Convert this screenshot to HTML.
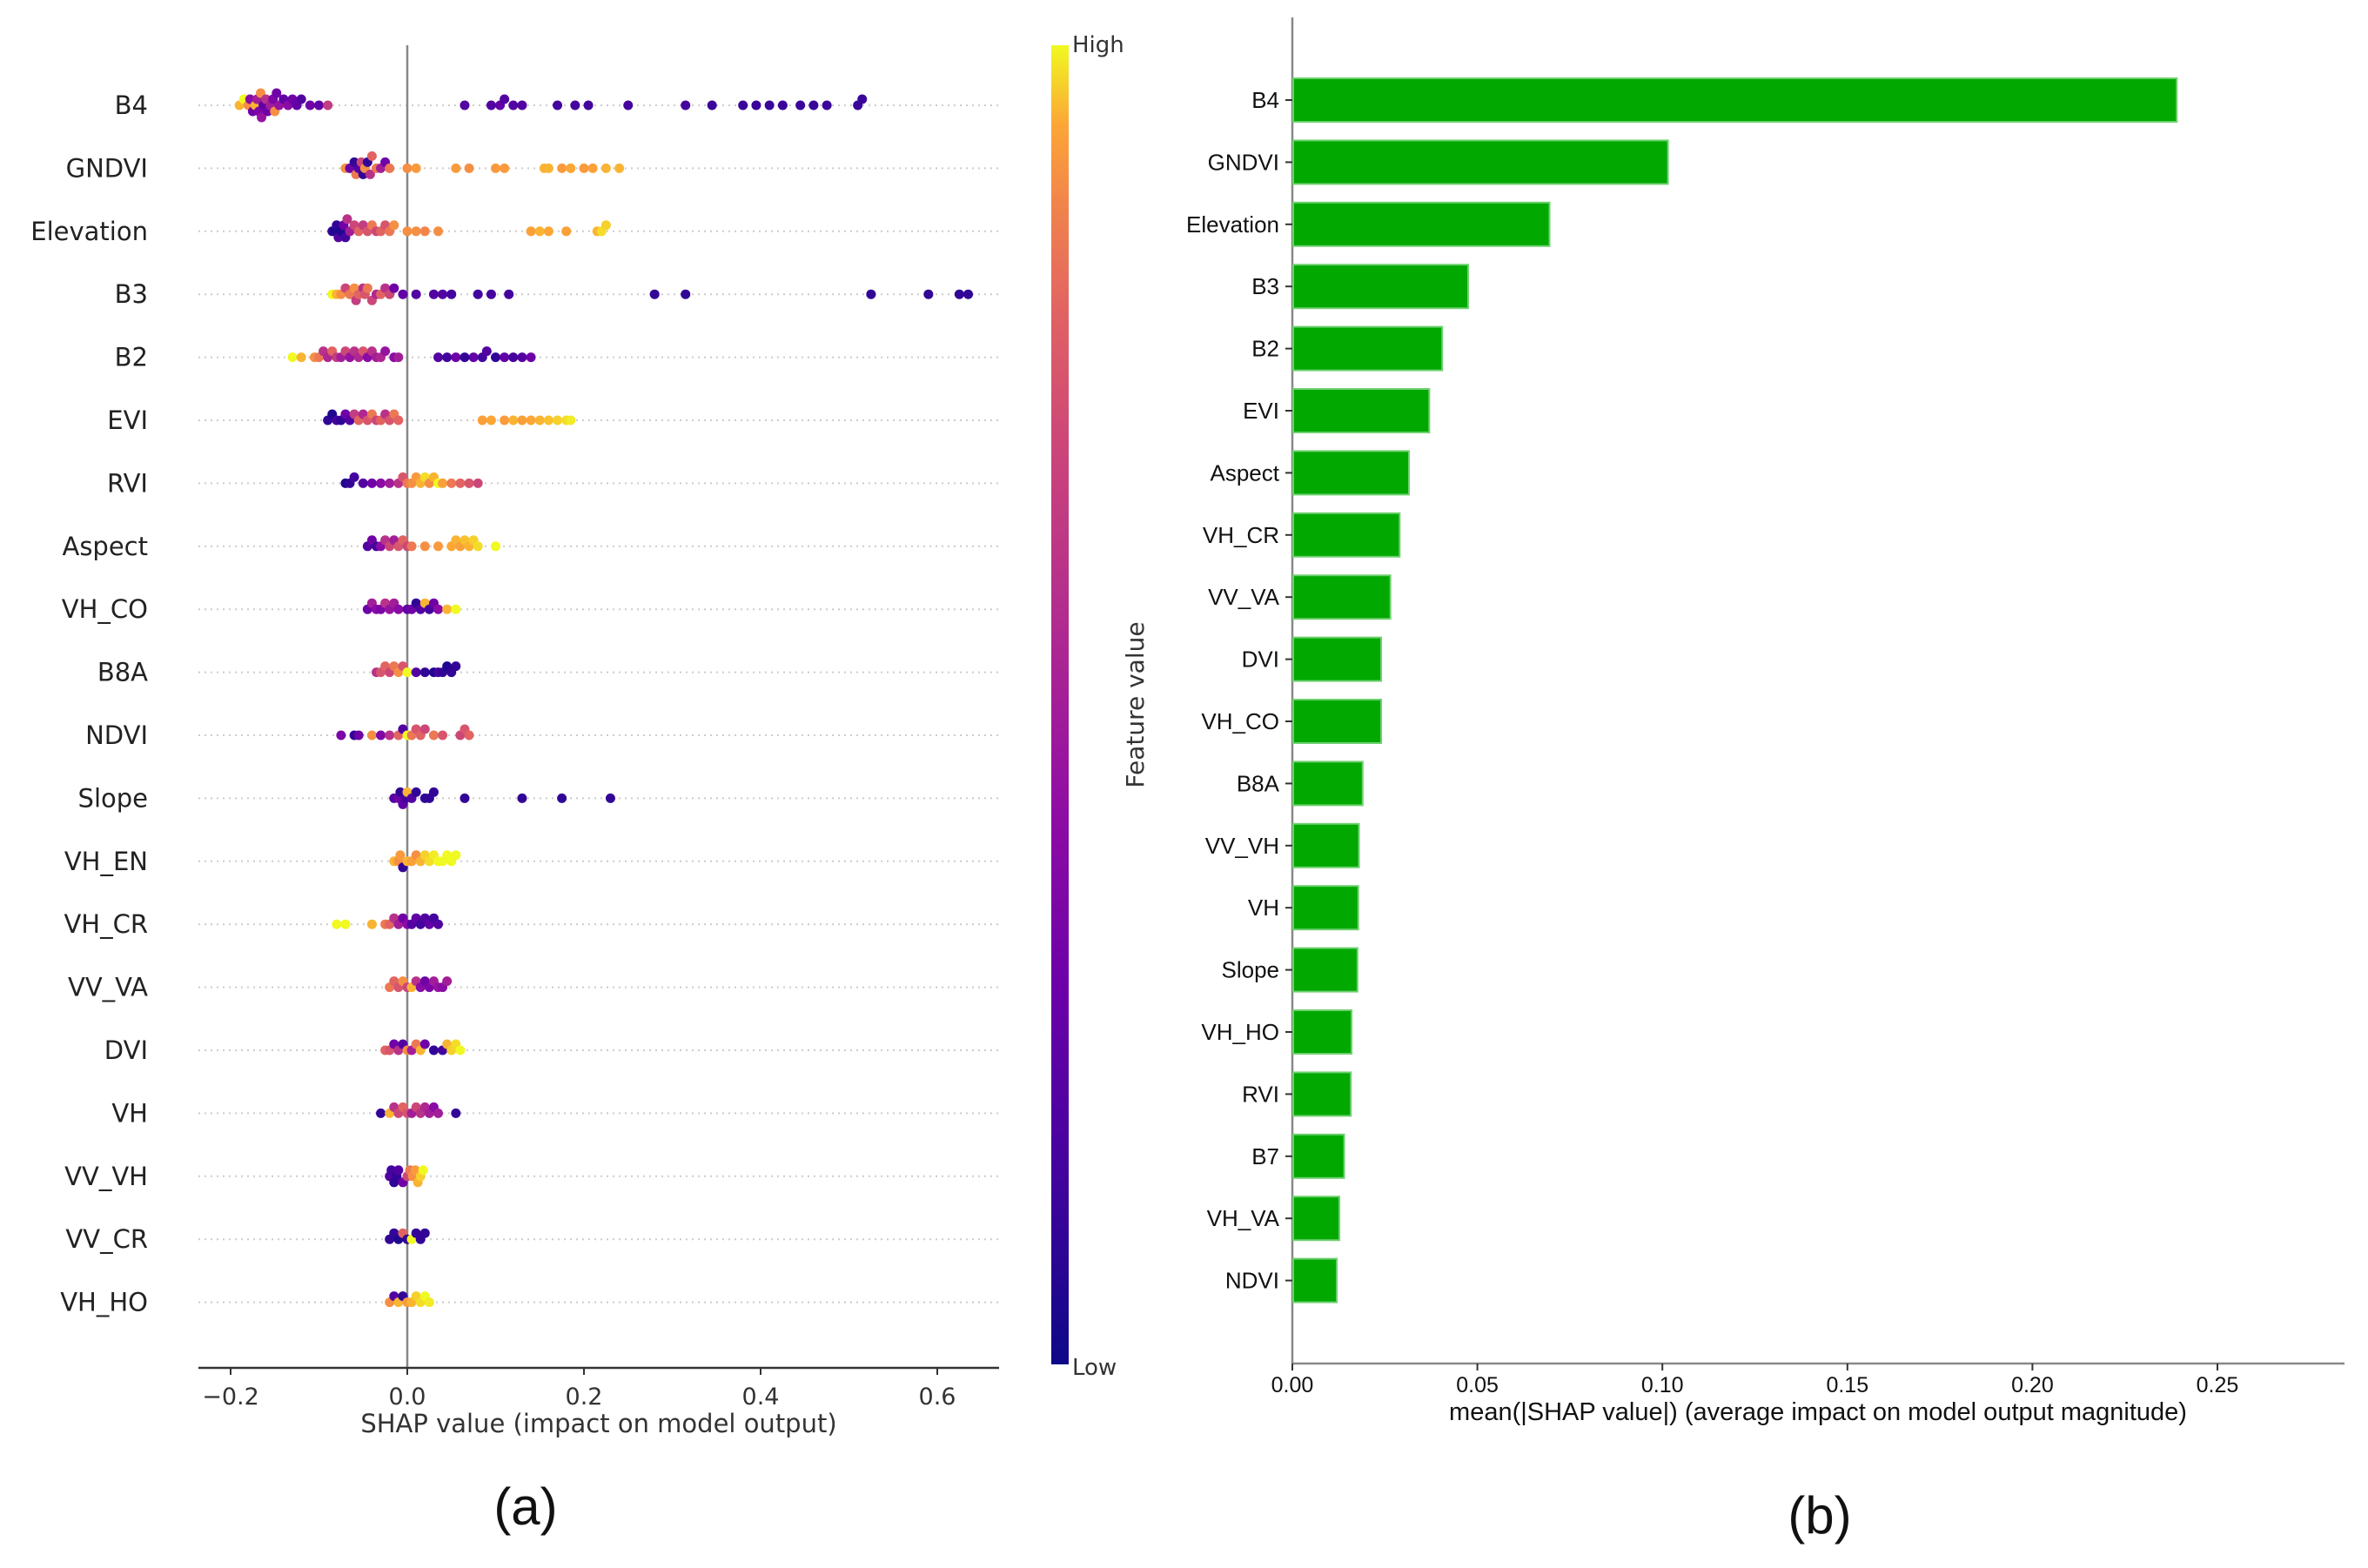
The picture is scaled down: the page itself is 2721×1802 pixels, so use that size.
<!DOCTYPE html>
<html><head><meta charset="utf-8">
<style>
html,body{margin:0;padding:0;background:#fff;}
svg{display:block;font-family:"DejaVu Sans","Liberation Sans",sans-serif;}
</style></head>
<body>
<svg id="fig" width="2721" height="1802" viewBox="0 0 2721 1802">
<defs>
<linearGradient id="plasma" x1="0" y1="1" x2="0" y2="0">
<stop offset="0" stop-color="#0d0887"/><stop offset="0.14" stop-color="#41049d"/>
<stop offset="0.28" stop-color="#6a00a8"/><stop offset="0.42" stop-color="#8f0da4"/>
<stop offset="0.56" stop-color="#b12a90"/><stop offset="0.7" stop-color="#cc4778"/>
<stop offset="0.8" stop-color="#e16462"/><stop offset="0.88" stop-color="#f2844b"/>
<stop offset="0.94" stop-color="#fca636"/><stop offset="1" stop-color="#f0f921"/>
</linearGradient>
</defs>
<g id="left"></g>
<g id="right"></g>
</svg>
<script>
// ---------- Bar chart data ----------
const barFeatures = ["B4","GNDVI","Elevation","B3","B2","EVI","Aspect","VH_CR","VV_VA","DVI","VH_CO","B8A","VV_VH","VH","Slope","VH_HO","RVI","B7","VH_VA","NDVI"];
const barValues = [0.239,0.1015,0.0695,0.0475,0.0405,0.037,0.0315,0.029,0.0265,0.024,0.024,0.019,0.018,0.0178,0.0176,0.016,0.0158,0.014,0.0127,0.012];
const barTicks = [0,0.05,0.10,0.15,0.20,0.25];
const barTickLabels = ["0.00","0.05","0.10","0.15","0.20","0.25"];

// ---------- Beeswarm data ----------
const swarmFeatures = ["B4","GNDVI","Elevation","B3","B2","EVI","RVI","Aspect","VH_CO","B8A","NDVI","Slope","VH_EN","VH_CR","VV_VA","DVI","VH","VV_VH","VV_CR","VH_HO"];
const swarmTicks = [-0.2,0,0.2,0.4,0.6];
const swarmTickLabels = ["\u22120.2","0.0","0.2","0.4","0.6"];
const shapVals = [
 [-0.19,-0.185,-0.18,-0.178,-0.175,-0.172,-0.17,-0.168,-0.166,-0.165,-0.163,-0.16,-0.158,-0.155,-0.152,-0.15,-0.148,-0.145,-0.14,-0.135,-0.13,-0.125,-0.12,-0.11,-0.1,-0.09,0.065,0.095,0.105,0.11,0.12,0.13,0.17,0.19,0.205,0.25,0.315,0.345,0.38,0.395,0.41,0.425,0.445,0.46,0.475,0.51,0.515],
 [-0.07,-0.065,-0.06,-0.058,-0.055,-0.052,-0.05,-0.048,-0.045,-0.042,-0.04,-0.035,-0.03,-0.025,-0.02,0,0.01,0.055,0.07,0.1,0.11,0.155,0.16,0.175,0.185,0.2,0.21,0.225,0.24],
 [-0.085,-0.082,-0.08,-0.078,-0.075,-0.072,-0.07,-0.068,-0.065,-0.06,-0.055,-0.05,-0.045,-0.04,-0.035,-0.03,-0.025,-0.02,-0.015,0,0.01,0.02,0.035,0.14,0.15,0.16,0.18,0.215,0.22,0.225],
 [-0.085,-0.08,-0.075,-0.07,-0.065,-0.06,-0.058,-0.055,-0.05,-0.048,-0.045,-0.04,-0.035,-0.03,-0.025,-0.02,-0.015,-0.005,0.01,0.03,0.04,0.05,0.08,0.095,0.115,0.28,0.315,0.525,0.59,0.625,0.635],
 [-0.13,-0.12,-0.105,-0.1,-0.095,-0.09,-0.085,-0.08,-0.075,-0.07,-0.065,-0.06,-0.055,-0.05,-0.045,-0.04,-0.035,-0.03,-0.025,-0.015,-0.01,0.035,0.045,0.055,0.065,0.075,0.085,0.09,0.1,0.11,0.12,0.13,0.14],
 [-0.09,-0.085,-0.08,-0.075,-0.07,-0.065,-0.06,-0.055,-0.05,-0.045,-0.04,-0.035,-0.03,-0.025,-0.02,-0.015,-0.01,0.085,0.095,0.11,0.12,0.13,0.14,0.15,0.16,0.17,0.18,0.185],
 [-0.07,-0.065,-0.06,-0.05,-0.04,-0.03,-0.02,-0.01,-0.005,0,0.005,0.01,0.015,0.02,0.025,0.03,0.035,0.04,0.05,0.06,0.07,0.08],
 [-0.045,-0.04,-0.035,-0.03,-0.025,-0.02,-0.015,-0.01,-0.005,0,0.005,0.02,0.035,0.05,0.055,0.06,0.065,0.07,0.075,0.08,0.1],
 [-0.045,-0.04,-0.035,-0.03,-0.025,-0.02,-0.015,-0.01,0,0.005,0.01,0.015,0.02,0.025,0.03,0.035,0.045,0.055],
 [-0.035,-0.03,-0.025,-0.02,-0.015,-0.01,-0.005,0,0.01,0.02,0.03,0.035,0.04,0.045,0.05,0.055],
 [-0.075,-0.06,-0.055,-0.04,-0.03,-0.02,-0.01,-0.005,0,0.005,0.01,0.015,0.02,0.03,0.04,0.06,0.065,0.07],
 [-0.015,-0.01,-0.008,-0.005,-0.002,0,0.005,0.01,0.02,0.025,0.03,0.065,0.13,0.175,0.23],
 [-0.015,-0.01,-0.008,-0.005,0,0.005,0.01,0.015,0.02,0.025,0.03,0.035,0.04,0.045,0.05,0.055],
 [-0.08,-0.07,-0.04,-0.025,-0.02,-0.015,-0.01,-0.005,0,0.005,0.01,0.015,0.02,0.025,0.03,0.035],
 [-0.02,-0.015,-0.01,-0.005,0,0.005,0.01,0.015,0.02,0.025,0.03,0.035,0.04,0.045],
 [-0.025,-0.02,-0.015,-0.01,-0.005,0,0.005,0.01,0.015,0.02,0.03,0.04,0.045,0.05,0.055,0.06],
 [-0.03,-0.02,-0.015,-0.01,-0.005,0,0.005,0.01,0.015,0.02,0.025,0.03,0.035,0.055],
 [-0.02,-0.018,-0.015,-0.012,-0.01,-0.005,0,0.003,0.006,0.009,0.012,0.015,0.018],
 [-0.02,-0.015,-0.01,-0.005,0,0.005,0.01,0.015,0.02],
 [-0.02,-0.015,-0.01,-0.005,0,0.005,0.01,0.015,0.02,0.025]
];
const featVals = [
 [0.95,1,0.9,0.4,0.3,0.95,0.5,0.35,0.9,0.45,0.25,0.6,0.3,0.5,0.35,0.9,0.3,0.45,0.25,0.4,0.3,0.25,0.2,0.3,0.25,0.65,0.2,0.2,0.25,0.2,0.2,0.2,0.15,0.15,0.15,0.15,0.15,0.12,0.12,0.12,0.12,0.12,0.12,0.12,0.12,0.12,0.12],
 [0.9,0.3,0.1,0.85,0.2,0.7,0.1,0.9,0.1,0.6,0.8,0.85,0.5,0.3,0.85,0.9,0.92,0.92,0.9,0.92,0.92,0.95,0.95,0.92,0.94,0.92,0.93,0.95,0.95],
 [0.1,0.05,0.1,0.2,0.05,0.3,0.15,0.6,0.5,0.7,0.8,0.65,0.75,0.85,0.7,0.8,0.75,0.85,0.9,0.9,0.9,0.88,0.9,0.93,0.95,0.94,0.93,0.95,0.98,0.97],
 [1,0.95,0.9,0.7,0.85,0.9,0.65,0.8,0.6,0.75,0.85,0.7,0.55,0.8,0.6,0.7,0.3,0.25,0.2,0.2,0.2,0.15,0.15,0.15,0.15,0.1,0.1,0.1,0.1,0.1,0.1],
 [1,0.95,0.9,0.85,0.6,0.55,0.8,0.65,0.5,0.7,0.45,0.6,0.55,0.75,0.4,0.6,0.5,0.55,0.45,0.4,0.5,0.2,0.15,0.3,0.1,0.25,0.15,0.2,0.1,0.25,0.15,0.2,0.3],
 [0.1,0.05,0.15,0.1,0.3,0.2,0.65,0.8,0.55,0.75,0.85,0.7,0.8,0.6,0.75,0.85,0.8,0.93,0.94,0.92,0.95,0.93,0.94,0.95,0.96,0.97,0.98,0.99],
 [0.05,0.1,0.15,0.2,0.3,0.4,0.5,0.6,0.75,0.85,0.9,0.92,0.95,0.98,0.9,0.95,1,0.93,0.85,0.8,0.75,0.7],
 [0.2,0.3,0.15,0.4,0.6,0.7,0.5,0.75,0.8,0.7,0.85,0.9,0.92,0.94,0.95,0.93,0.96,0.95,0.97,0.98,1],
 [0.3,0.5,0.4,0.35,0.6,0.45,0.5,0.4,0.25,0.3,0.1,0.2,0.95,0.15,0.3,0.4,0.95,1],
 [0.6,0.75,0.8,0.7,0.85,0.9,0.75,1,0.2,0.1,0.05,0.15,0.1,0.05,0.1,0.1],
 [0.35,0.1,0.3,0.9,0.35,0.6,0.8,0.2,1,0.85,0.75,0.8,0.7,0.85,0.75,0.7,0.75,0.8],
 [0.2,0.3,0.1,0.25,0.15,0.95,0.2,0.1,0.1,0.1,0.1,0.1,0.1,0.1,0.1],
 [0.95,0.9,0.92,0.1,0.95,0.93,0.9,0.95,0.97,0.98,0.99,1,1,1,1,1],
 [1,1,0.95,0.85,0.8,0.6,0.5,0.3,0.4,0.2,0.25,0.15,0.2,0.25,0.15,0.2],
 [0.85,0.8,0.75,0.9,0.7,0.95,0.6,0.4,0.3,0.35,0.5,0.45,0.4,0.5],
 [0.8,0.75,0.3,0.6,0.2,0.9,0.5,0.85,0.95,0.3,0.1,0.15,0.95,0.97,0.98,1],
 [0.1,0.95,0.6,0.7,0.8,0.75,0.5,0.7,0.6,0.55,0.5,0.4,0.5,0.1],
 [0.2,0.15,0.1,0.1,0.2,0.3,0.7,0.85,0.9,0.92,0.95,0.97,1],
 [0.1,0.1,0.05,0.8,0.1,1,0.1,0.1,0.1],
 [0.9,0.2,0.95,0.1,0.92,0.95,0.97,0.98,1,0.99]
];

const NS="http://www.w3.org/2000/svg";
function mk(tag,attrs,parent,text){const e=document.createElementNS(NS,tag);for(const k in attrs)e.setAttribute(k,attrs[k]);if(text!==undefined)e.textContent=text;parent.appendChild(e);return e;}
const stops=[[0,13,8,135],[0.14,65,4,157],[0.28,106,0,168],[0.42,143,13,164],[0.56,177,42,144],[0.7,204,71,120],[0.8,225,100,98],[0.88,242,132,75],[0.94,252,166,54],[1,240,249,33]];
function plasma(t){for(let i=1;i<stops.length;i++){if(t<=stops[i][0]){const a=stops[i-1],b=stops[i],f=(t-a[0])/(b[0]-a[0]);return `rgb(${Math.round(a[1]+f*(b[1]-a[1]))},${Math.round(a[2]+f*(b[2]-a[2]))},${Math.round(a[3]+f*(b[3]-a[3]))})`;}}return "rgb(240,249,33)";}

// ---------- Left: beeswarm ----------
const L=document.getElementById('left');
const lx=v=>468+v*1015;
const ly=i=>121+i*72.4;
const ax0=228, ax1=1148, axY=1572;
swarmFeatures.forEach((f,i)=>{
  const g=mk('line',{x1:ax0,x2:ax1,y1:ly(i),y2:ly(i),stroke:'#ccc','stroke-width':2,'stroke-dasharray':'2 5'},L);
  
  
  const t=mk('text',{x:170,y:ly(i)+10,'text-anchor':'end','font-size':29,fill:'#222'},L,f);
  
  
});
const zl=mk('line',{x1:lx(0),x2:lx(0),y1:52,y2:axY,stroke:'#888','stroke-width':2.5},L);


swarmFeatures.forEach((f,i)=>{
  const xs=shapVals[i],cs=featVals[i];
  const bins={};
  xs.forEach((v,j)=>{
    const px=lx(v);const b=Math.round(px/9);
    const n=bins[b]=(bins[b]||0)+1;
    const off=(n===1)?0:((n%2===0)?-1:1)*Math.floor(n/2)*7;
    const c=mk('circle',{cx:px,cy:ly(i)+off,r:5.5,fill:plasma(cs[j])},L);
    
    
  });
});
const xa=mk('line',{x1:ax0,x2:ax1,y1:axY,y2:axY,stroke:'#333','stroke-width':2.5},L);


swarmTicks.forEach((v,k)=>{
  mk('line',{x1:lx(v),x2:lx(v),y1:axY,y2:axY+8,stroke:'#333','stroke-width':2},L);
  const t=mk('text',{x:lx(v),y:axY+42,'text-anchor':'middle','font-size':27,fill:'#333'},L,swarmTickLabels[k]);
  
  
});
const xt=mk('text',{x:688,y:1646,'text-anchor':'middle','font-size':29,fill:'#333'},L,'SHAP value (impact on model output)');


const cb=mk('rect',{x:1208,y:52,width:20,height:1516,fill:'url(#plasma)'},L);


const hi=mk('text',{x:1232,y:60,'font-size':26,fill:'#333'},L,'High');


const lo=mk('text',{x:1232,y:1580,'font-size':26,fill:'#333'},L,'Low');


const fv=mk('text',{x:0,y:0,'font-size':28,fill:'#333','text-anchor':'middle',transform:'translate(1314,810) rotate(-90)'},L,'Feature value');


const pa=mk('text',{x:604,y:1752,'text-anchor':'middle','font-size':60,fill:'#111','font-family':'Liberation Sans, sans-serif'},L,'(a)');



// ---------- Right: bar chart ----------
const R=document.getElementById('right');
const bx=v=>1485+v*4252;
const by=i=>115+i*71.4;
const bAxY=1567;
const ya=mk('line',{x1:1485,x2:1485,y1:20,y2:bAxY,stroke:'#888','stroke-width':2.5},R);


barFeatures.forEach((f,i)=>{
  const r=mk('rect',{x:1486,y:by(i)-25,width:bx(barValues[i])-1486,height:50,fill:'#00a800',stroke:'#6fd06f','stroke-width':2},R);
  
  
  mk('line',{x1:1477,x2:1485,y1:by(i),y2:by(i),stroke:'#333','stroke-width':2},R);
  const t=mk('text',{x:1470,y:by(i)+9,'text-anchor':'end','font-size':26,fill:'#111','font-family':'Liberation Sans, sans-serif'},R,f);
  
  
});
const bxa=mk('line',{x1:1485,x2:2694,y1:bAxY,y2:bAxY,stroke:'#888','stroke-width':2.5},R);


barTicks.forEach((v,k)=>{
  mk('line',{x1:bx(v),x2:bx(v),y1:bAxY,y2:bAxY+8,stroke:'#333','stroke-width':2},R);
  const t=mk('text',{x:bx(v),y:bAxY+33,'text-anchor':'middle','font-size':25,fill:'#111','font-family':'Liberation Sans, sans-serif'},R,barTickLabels[k]);
  
  
});
const bt=mk('text',{x:2089,y:1632,'text-anchor':'middle','font-size':29,fill:'#111','font-family':'Liberation Sans, sans-serif'},R,'mean(|SHAP value|) (average impact on model output magnitude)');


const pb=mk('text',{x:2091,y:1762,'text-anchor':'middle','font-size':60,fill:'#111','font-family':'Liberation Sans, sans-serif'},R,'(b)');


</script>
</body></html>
